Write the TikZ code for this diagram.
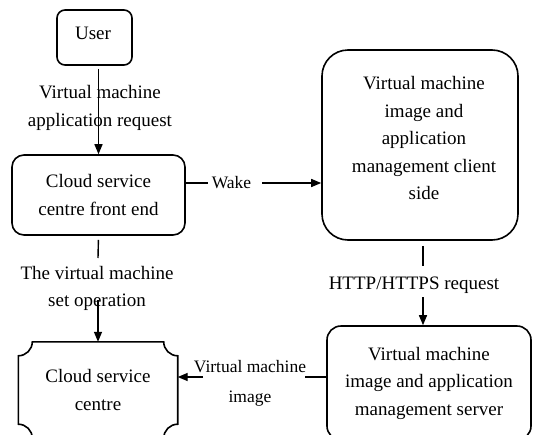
\documentclass[tikz,border=0pt]{standalone}
\usepackage{fontspec}
\setmainfont{Liberation Serif}
\usetikzlibrary{arrows.meta,calc}
\begin{document}
\begin{tikzpicture}[x=1pt,y=-1pt,
  every node/.style={font=\fontsize{19}{27.5}\selectfont},
  box/.style={draw, line width=1.6pt, rounded corners=#1, align=center, inner sep=0pt},
  box/.default=12pt,
  txt/.style={align=center, inner sep=0pt},
  lbl/.style={align=center, inner sep=3pt},
  small/.style={align=center, inner sep=3pt, font=\fontsize{17.5}{30}\selectfont},
  link/.style={line width=1.4pt},
  arr/.style={link, -{Triangle[length=10pt,width=8pt]}}
]
\useasboundingbox (0,0) rectangle (533,434);
\clip (0,0) rectangle (533,434);

% boxes
\node[box=8pt, minimum width=75pt, minimum height=55pt] (user) at (94.5,37.5) {};
\node[txt] (usertext) at (93,33.5) {User};

\node[box=12pt, minimum width=173pt, minimum height=80pt] (front) at (98.5,195)
  {Cloud service\\centre front end};

\node[box=26pt, minimum width=196pt, minimum height=190pt] (client) at (420,145) {};
\node[txt] (clienttext) at (424,138)
  {Virtual machine\\image and\\application\\management client\\side};

\node[box=14pt, minimum width=204pt, minimum height=114pt] (server) at (429,383)
  {Virtual machine\\image and application\\management server};

% cloud service centre: rectangle with concave corners
\node[txt, minimum width=159pt, minimum height=96pt] (centre) at (98,390)
  {Cloud service\\centre};
\def\r{14}
\def\k{7.7}
\draw[line width=1.6pt]
  ($(centre.north west)+(\r,0)$) -- ($(centre.north east)+(-\r,0)$)
  .. controls ($(centre.north east)+(-\r,\k)$) and ($(centre.north east)+(-\k,\r)$)
  .. ($(centre.north east)+(0,\r)$)
  -- ($(centre.south east)+(0,-\r)$)
  .. controls ($(centre.south east)+(-\k,-\r)$) and ($(centre.south east)+(-\r,-\k)$)
  .. ($(centre.south east)+(-\r,0)$)
  -- ($(centre.south west)+(\r,0)$)
  .. controls ($(centre.south west)+(\r,-\k)$) and ($(centre.south west)+(\k,-\r)$)
  .. ($(centre.south west)+(0,-\r)$)
  -- ($(centre.north west)+(0,\r)$)
  .. controls ($(centre.north west)+(\k,\r)$) and ($(centre.north west)+(\r,\k)$)
  .. cycle;

% connector labels
\node[lbl] (req) at (100,108) {Virtual machine\\application request};
\node[lbl] (setop) at (97,288.5) {The virtual machine\\set operation};
\node[lbl] (http) at (414,285) {HTTP/HTTPS request};
\node[small] (vmimg) at (250,383) {Virtual machine\\image};
\node[small, inner xsep=3.5pt] (wake) at (231.5,183) {Wake};

% free ends of the broken connectors
\coordinate (s1) at (98,258);
\coordinate (s2) at (98,300);
\coordinate (h1) at (423,266);
\coordinate (h2) at (423,297);
\coordinate (i1) at (305,377);
\coordinate (i2) at (203,377);
\coordinate (w2) at (262,183);

% connectors
\draw[arr, shorten <=3pt] (front.north |- user.south) -- (front.north);
\draw[link, shorten <=4pt] (front.south) -- (s1);
\draw[arr] (s2) -- (centre.north);
\draw[link] (front.east |- w2) -- (wake.west);
\draw[arr] (w2) -- (client.west |- w2);
\draw[link, shorten <=5pt] (client.south -| h1) -- (h1);
\draw[arr] (h2) -- (server.north -| h2);
\draw[link] (server.west |- i1) -- (i1);
\draw[arr] (i2) -- (centre.east |- i2);
\end{tikzpicture}
\end{document}
